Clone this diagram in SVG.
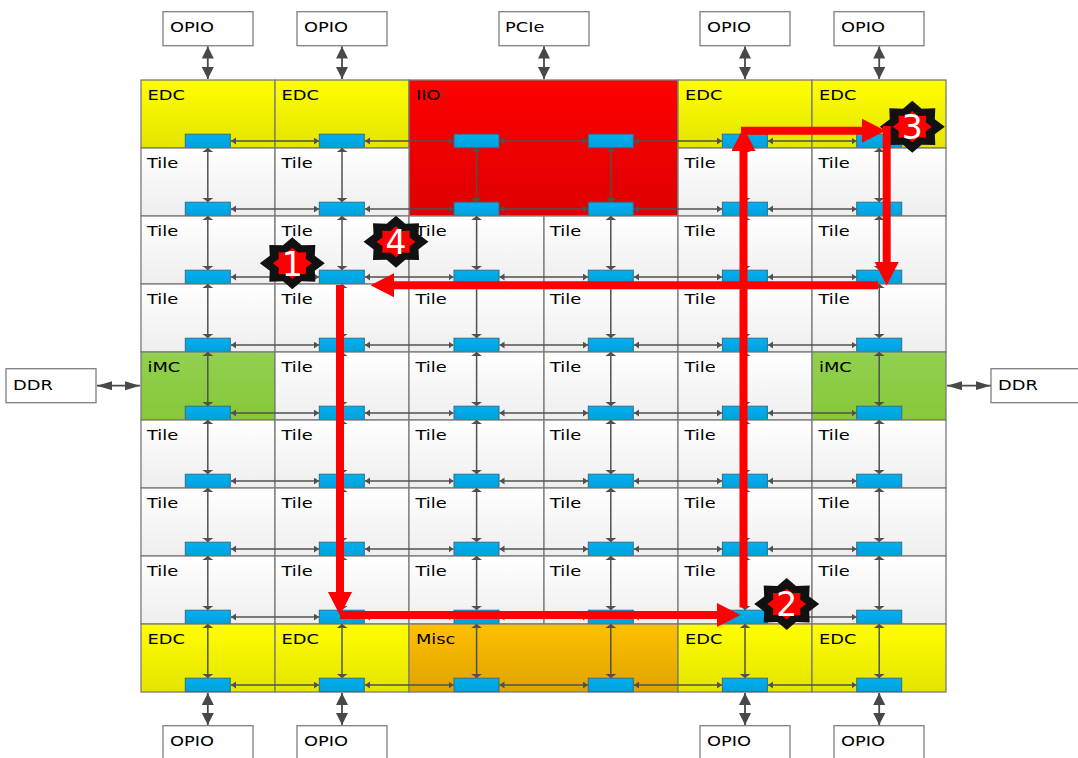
<svg xmlns="http://www.w3.org/2000/svg" width="1078" height="758" viewBox="0 0 1078 758">
<style>
text{font-family:"DejaVu Sans","Liberation Sans",sans-serif;font-size:14.6px;fill:#000}
.n{font-size:33px;fill:#fff;text-anchor:middle}
.c{stroke:#7a7a7a;stroke-width:1.3}
.tile{fill:url(#gt)}.edc{fill:url(#gy)}.iio{fill:url(#gr)}.imc{fill:url(#gg)}.misc{fill:url(#go)}
.ext{fill:#fff;stroke:#7f7f7f;stroke-width:1.3}
.h{fill:none;stroke:#505050;stroke-width:1.5;marker-start:url(#mh);marker-end:url(#mh)}
.v{fill:none;stroke:#505050;stroke-width:1.5;marker-start:url(#mv);marker-end:url(#mv)}
.bv{fill:none;stroke:#484848;stroke-width:1.8;marker-start:url(#mbv);marker-end:url(#mbv)}
.bh{fill:none;stroke:#484848;stroke-width:1.8;marker-start:url(#mbh);marker-end:url(#mbh)}
.r{fill:none;stroke:#f00;stroke-width:8;marker-end:url(#mr)}
.so{fill:#111}.si{fill:#f00}
</style>
<defs>
<linearGradient id="gt" x1="0" y1="0" x2="0" y2="1"><stop offset="0" stop-color="#fff"/><stop offset="1" stop-color="#eee"/></linearGradient>
<linearGradient id="gy" x1="0" y1="0" x2="0" y2="1"><stop offset="0" stop-color="#ff0"/><stop offset="1" stop-color="#e4e400"/></linearGradient>
<linearGradient id="gr" x1="0" y1="0" x2="0" y2="1"><stop offset="0" stop-color="#f00"/><stop offset="1" stop-color="#de0000"/></linearGradient>
<linearGradient id="gg" x1="0" y1="0" x2="0" y2="1"><stop offset="0" stop-color="#92d050"/><stop offset="1" stop-color="#86c838"/></linearGradient>
<linearGradient id="go" x1="0" y1="0" x2="0" y2="1"><stop offset="0" stop-color="#ffc000"/><stop offset="1" stop-color="#dfa300"/></linearGradient>
<linearGradient id="gb" x1="0" y1="0" x2="0" y2="1"><stop offset="0" stop-color="#00b0f0"/><stop offset="1" stop-color="#00a0dc"/></linearGradient>
<rect id="bus" width="45" height="13.5" fill="url(#gb)" stroke="#2f6f8a" stroke-width="1"/>
<polygon id="star" points="0,-26 9.3,-18 23,-18.4 22.5,-7.5 32.5,0 22.5,7.5 23,18.4 9.3,18 0,26 -9.3,18 -23,18.4 -22.5,7.5 -32.5,0 -22.5,-7.5 -23,-18.4 -9.3,-18"/>
<marker id="mh" markerUnits="userSpaceOnUse" markerWidth="6" markerHeight="8" refX="5" refY="3.5" orient="auto-start-reverse"><path d="M0,0L5,3.5L0,7z" fill="#505050"/></marker>
<marker id="mv" markerUnits="userSpaceOnUse" markerWidth="5" markerHeight="11" refX="4" refY="5.5" orient="auto-start-reverse"><path d="M0,0L4,5.5L0,11z" fill="#505050"/></marker>
<marker id="mbv" markerUnits="userSpaceOnUse" markerWidth="13" markerHeight="12" refX="12" refY="6" orient="auto-start-reverse"><path d="M0,0L12,6L0,12z" fill="#484848"/></marker>
<marker id="mbh" markerUnits="userSpaceOnUse" markerWidth="16" markerHeight="10" refX="15" refY="4.5" orient="auto-start-reverse"><path d="M0,0L15,4.5L0,9z" fill="#484848"/></marker>
<marker id="mr" markerUnits="userSpaceOnUse" markerWidth="24" markerHeight="24" refX="0" refY="12" orient="auto"><path d="M0,0L23.5,12L0,24z" fill="#f00"/></marker>
</defs>
<g id="ext">
<g id="opio-t1"><rect class="ext" x="163" y="11.7" width="90" height="34"/><text transform="translate(170 32) scale(1.22 1)">OPIO</text></g>
<g id="opio-t2"><rect class="ext" x="297" y="11.7" width="90" height="34"/><text transform="translate(304 32) scale(1.22 1)">OPIO</text></g>
<g id="pcie"><rect class="ext" x="499" y="11.7" width="90" height="34"/><text transform="translate(505 32) scale(1.22 1)">PCIe</text></g>
<g id="opio-t3"><rect class="ext" x="700" y="11.7" width="90" height="34"/><text transform="translate(707 32) scale(1.22 1)">OPIO</text></g>
<g id="opio-t4"><rect class="ext" x="834" y="11.7" width="90" height="34"/><text transform="translate(841 32) scale(1.22 1)">OPIO</text></g>
<g id="opio-b1"><rect class="ext" x="163" y="725.7" width="90" height="40"/><text transform="translate(170 746) scale(1.22 1)">OPIO</text></g>
<g id="opio-b2"><rect class="ext" x="297" y="725.7" width="90" height="40"/><text transform="translate(304 746) scale(1.22 1)">OPIO</text></g>
<g id="opio-b3"><rect class="ext" x="700" y="725.7" width="90" height="40"/><text transform="translate(707 746) scale(1.22 1)">OPIO</text></g>
<g id="opio-b4"><rect class="ext" x="834" y="725.7" width="90" height="40"/><text transform="translate(841 746) scale(1.22 1)">OPIO</text></g>
<g id="ddr-l"><rect class="ext" x="6" y="368.7" width="90" height="34"/><text transform="translate(13 389.5) scale(1.22 1)">DDR</text></g>
<g id="ddr-r"><rect class="ext" x="991" y="368.7" width="90" height="34"/><text transform="translate(998 389.5) scale(1.22 1)">DDR</text></g>
</g>
<g id="cells">
<g id="r1c1"><rect class="c edc" x="141" y="80" width="134" height="68"/><text transform="translate(147.5 100) scale(1.22 1)">EDC</text><use href="#bus" x="185.3" y="134.2"/></g>
<g id="r1c2"><rect class="c edc" x="275" y="80" width="134" height="68"/><text transform="translate(281.5 100) scale(1.22 1)">EDC</text><use href="#bus" x="319.3" y="134.2"/></g>
<g id="iio"><rect class="c iio" x="409" y="80" width="269" height="136"/><text transform="translate(416 100) scale(1.22 1)">IIO</text><use href="#bus" x="454" y="134.2"/><use href="#bus" x="588.3" y="134.2"/><use href="#bus" x="454" y="202.2"/><use href="#bus" x="588.3" y="202.2"/></g>
<g id="r1c5"><rect class="c edc" x="678" y="80" width="134" height="68"/><text transform="translate(685 100) scale(1.22 1)">EDC</text><use href="#bus" x="722.4" y="134.2"/></g>
<g id="r1c6"><rect class="c edc" x="812" y="80" width="134" height="68"/><text transform="translate(819 100) scale(1.22 1)">EDC</text><use href="#bus" x="856.7" y="134.2"/></g>

<g id="r2c1"><rect class="c tile" x="141" y="148" width="134" height="68"/><text transform="translate(147 168.3) scale(1.22 1)">Tile</text><use href="#bus" x="185.3" y="202.2"/></g>
<g id="r2c2"><rect class="c tile" x="275" y="148" width="134" height="68"/><text transform="translate(281.5 168.3) scale(1.22 1)">Tile</text><use href="#bus" x="319.3" y="202.2"/></g>
<g id="r2c5"><rect class="c tile" x="678" y="148" width="134" height="68"/><text transform="translate(684.5 168.3) scale(1.22 1)">Tile</text><use href="#bus" x="722.4" y="202.2"/></g>
<g id="r2c6"><rect class="c tile" x="812" y="148" width="134" height="68"/><text transform="translate(818.5 168.3) scale(1.22 1)">Tile</text><use href="#bus" x="856.7" y="202.2"/></g>

<g id="r3c1"><rect class="c tile" x="141" y="216" width="134" height="68"/><text transform="translate(147 236.3) scale(1.22 1)">Tile</text><use href="#bus" x="185.3" y="270.2"/></g>
<g id="r3c2"><rect class="c tile" x="275" y="216" width="134" height="68"/><text transform="translate(281.5 236.3) scale(1.22 1)">Tile</text><use href="#bus" x="319.3" y="270.2"/></g>
<g id="r3c3"><rect class="c tile" x="409" y="216" width="135" height="68"/><text transform="translate(415.5 236.3) scale(1.22 1)">Tile</text><use href="#bus" x="454" y="270.2"/></g>
<g id="r3c4"><rect class="c tile" x="544" y="216" width="134" height="68"/><text transform="translate(550 236.3) scale(1.22 1)">Tile</text><use href="#bus" x="588.3" y="270.2"/></g>
<g id="r3c5"><rect class="c tile" x="678" y="216" width="134" height="68"/><text transform="translate(684.5 236.3) scale(1.22 1)">Tile</text><use href="#bus" x="722.4" y="270.2"/></g>
<g id="r3c6"><rect class="c tile" x="812" y="216" width="134" height="68"/><text transform="translate(818.5 236.3) scale(1.22 1)">Tile</text><use href="#bus" x="856.7" y="270.2"/></g>

<g id="r4c1"><rect class="c tile" x="141" y="284" width="134" height="68"/><text transform="translate(147 304.3) scale(1.22 1)">Tile</text><use href="#bus" x="185.3" y="338.2"/></g>
<g id="r4c2"><rect class="c tile" x="275" y="284" width="134" height="68"/><text transform="translate(281.5 304.3) scale(1.22 1)">Tile</text><use href="#bus" x="319.3" y="338.2"/></g>
<g id="r4c3"><rect class="c tile" x="409" y="284" width="135" height="68"/><text transform="translate(415.5 304.3) scale(1.22 1)">Tile</text><use href="#bus" x="454" y="338.2"/></g>
<g id="r4c4"><rect class="c tile" x="544" y="284" width="134" height="68"/><text transform="translate(550 304.3) scale(1.22 1)">Tile</text><use href="#bus" x="588.3" y="338.2"/></g>
<g id="r4c5"><rect class="c tile" x="678" y="284" width="134" height="68"/><text transform="translate(684.5 304.3) scale(1.22 1)">Tile</text><use href="#bus" x="722.4" y="338.2"/></g>
<g id="r4c6"><rect class="c tile" x="812" y="284" width="134" height="68"/><text transform="translate(818.5 304.3) scale(1.22 1)">Tile</text><use href="#bus" x="856.7" y="338.2"/></g>

<g id="r5c1"><rect class="c imc" x="141" y="352" width="134" height="68"/><text transform="translate(147.5 372.3) scale(1.22 1)">iMC</text><use href="#bus" x="185.3" y="406.2"/></g>
<g id="r5c2"><rect class="c tile" x="275" y="352" width="134" height="68"/><text transform="translate(281.5 372.3) scale(1.22 1)">Tile</text><use href="#bus" x="319.3" y="406.2"/></g>
<g id="r5c3"><rect class="c tile" x="409" y="352" width="135" height="68"/><text transform="translate(415.5 372.3) scale(1.22 1)">Tile</text><use href="#bus" x="454" y="406.2"/></g>
<g id="r5c4"><rect class="c tile" x="544" y="352" width="134" height="68"/><text transform="translate(550 372.3) scale(1.22 1)">Tile</text><use href="#bus" x="588.3" y="406.2"/></g>
<g id="r5c5"><rect class="c tile" x="678" y="352" width="134" height="68"/><text transform="translate(684.5 372.3) scale(1.22 1)">Tile</text><use href="#bus" x="722.4" y="406.2"/></g>
<g id="r5c6"><rect class="c imc" x="812" y="352" width="134" height="68"/><text transform="translate(819 372.3) scale(1.22 1)">iMC</text><use href="#bus" x="856.7" y="406.2"/></g>

<g id="r6c1"><rect class="c tile" x="141" y="420" width="134" height="68"/><text transform="translate(147 440.3) scale(1.22 1)">Tile</text><use href="#bus" x="185.3" y="474.2"/></g>
<g id="r6c2"><rect class="c tile" x="275" y="420" width="134" height="68"/><text transform="translate(281.5 440.3) scale(1.22 1)">Tile</text><use href="#bus" x="319.3" y="474.2"/></g>
<g id="r6c3"><rect class="c tile" x="409" y="420" width="135" height="68"/><text transform="translate(415.5 440.3) scale(1.22 1)">Tile</text><use href="#bus" x="454" y="474.2"/></g>
<g id="r6c4"><rect class="c tile" x="544" y="420" width="134" height="68"/><text transform="translate(550 440.3) scale(1.22 1)">Tile</text><use href="#bus" x="588.3" y="474.2"/></g>
<g id="r6c5"><rect class="c tile" x="678" y="420" width="134" height="68"/><text transform="translate(684.5 440.3) scale(1.22 1)">Tile</text><use href="#bus" x="722.4" y="474.2"/></g>
<g id="r6c6"><rect class="c tile" x="812" y="420" width="134" height="68"/><text transform="translate(818.5 440.3) scale(1.22 1)">Tile</text><use href="#bus" x="856.7" y="474.2"/></g>

<g id="r7c1"><rect class="c tile" x="141" y="488" width="134" height="68"/><text transform="translate(147 508.3) scale(1.22 1)">Tile</text><use href="#bus" x="185.3" y="542.2"/></g>
<g id="r7c2"><rect class="c tile" x="275" y="488" width="134" height="68"/><text transform="translate(281.5 508.3) scale(1.22 1)">Tile</text><use href="#bus" x="319.3" y="542.2"/></g>
<g id="r7c3"><rect class="c tile" x="409" y="488" width="135" height="68"/><text transform="translate(415.5 508.3) scale(1.22 1)">Tile</text><use href="#bus" x="454" y="542.2"/></g>
<g id="r7c4"><rect class="c tile" x="544" y="488" width="134" height="68"/><text transform="translate(550 508.3) scale(1.22 1)">Tile</text><use href="#bus" x="588.3" y="542.2"/></g>
<g id="r7c5"><rect class="c tile" x="678" y="488" width="134" height="68"/><text transform="translate(684.5 508.3) scale(1.22 1)">Tile</text><use href="#bus" x="722.4" y="542.2"/></g>
<g id="r7c6"><rect class="c tile" x="812" y="488" width="134" height="68"/><text transform="translate(818.5 508.3) scale(1.22 1)">Tile</text><use href="#bus" x="856.7" y="542.2"/></g>

<g id="r8c1"><rect class="c tile" x="141" y="556" width="134" height="68"/><text transform="translate(147 576.3) scale(1.22 1)">Tile</text><use href="#bus" x="185.3" y="610.2"/></g>
<g id="r8c2"><rect class="c tile" x="275" y="556" width="134" height="68"/><text transform="translate(281.5 576.3) scale(1.22 1)">Tile</text><use href="#bus" x="319.3" y="610.2"/></g>
<g id="r8c3"><rect class="c tile" x="409" y="556" width="135" height="68"/><text transform="translate(415.5 576.3) scale(1.22 1)">Tile</text><use href="#bus" x="454" y="610.2"/></g>
<g id="r8c4"><rect class="c tile" x="544" y="556" width="134" height="68"/><text transform="translate(550 576.3) scale(1.22 1)">Tile</text><use href="#bus" x="588.3" y="610.2"/></g>
<g id="r8c5"><rect class="c tile" x="678" y="556" width="134" height="68"/><text transform="translate(684.5 576.3) scale(1.22 1)">Tile</text><use href="#bus" x="722.4" y="610.2"/></g>
<g id="r8c6"><rect class="c tile" x="812" y="556" width="134" height="68"/><text transform="translate(818.5 576.3) scale(1.22 1)">Tile</text><use href="#bus" x="856.7" y="610.2"/></g>

<g id="r9c1"><rect class="c edc" x="141" y="624" width="134" height="68"/><text transform="translate(147.5 644.3) scale(1.22 1)">EDC</text><use href="#bus" x="185.3" y="678.2"/></g>
<g id="r9c2"><rect class="c edc" x="275" y="624" width="134" height="68"/><text transform="translate(281.5 644.3) scale(1.22 1)">EDC</text><use href="#bus" x="319.3" y="678.2"/></g>
<g id="misc"><rect class="c misc" x="409" y="624" width="269" height="68"/><text transform="translate(416 644.3) scale(1.22 1)">Misc</text><use href="#bus" x="454" y="678.2"/><use href="#bus" x="588.3" y="678.2"/></g>
<g id="r9c5"><rect class="c edc" x="678" y="624" width="134" height="68"/><text transform="translate(685 644.3) scale(1.22 1)">EDC</text><use href="#bus" x="722.4" y="678.2"/></g>
<g id="r9c6"><rect class="c edc" x="812" y="624" width="134" height="68"/><text transform="translate(819 644.3) scale(1.22 1)">EDC</text><use href="#bus" x="856.7" y="678.2"/></g>
</g>
<g id="connectors">
<path class="bv" d="M207.8 46.5V79"/><path class="bv" d="M342 46.5V79"/><path class="bv" d="M544 46.5V79"/><path class="bv" d="M745 46.5V79"/><path class="bv" d="M879.2 46.5V79"/>
<path class="bv" d="M207.8 693V725"/><path class="bv" d="M342 693V725"/><path class="bv" d="M745 693V725"/><path class="bv" d="M879.2 693V725"/>
<path class="bh" d="M97 385.7H140"/><path class="bh" d="M947 385.7H990.5"/>

<path class="v" d="M207.8 148V202"/><path class="v" d="M342 148V202"/><path class="v" d="M476.6 148V202"/><path class="v" d="M610.8 148V202"/><path class="v" d="M745 148V202"/><path class="v" d="M879.2 148V202"/>
<path class="v" d="M207.8 216V270"/><path class="v" d="M342 216V270"/><path class="v" d="M476.6 216V270"/><path class="v" d="M610.8 216V270"/><path class="v" d="M745 216V270"/><path class="v" d="M879.2 216V270"/>
<path class="v" d="M207.8 284V338"/><path class="v" d="M342 284V338"/><path class="v" d="M476.6 284V338"/><path class="v" d="M610.8 284V338"/><path class="v" d="M745 284V338"/><path class="v" d="M879.2 284V338"/>
<path class="v" d="M207.8 352V406"/><path class="v" d="M342 352V406"/><path class="v" d="M476.6 352V406"/><path class="v" d="M610.8 352V406"/><path class="v" d="M745 352V406"/><path class="v" d="M879.2 352V406"/>
<path class="v" d="M207.8 420V474"/><path class="v" d="M342 420V474"/><path class="v" d="M476.6 420V474"/><path class="v" d="M610.8 420V474"/><path class="v" d="M745 420V474"/><path class="v" d="M879.2 420V474"/>
<path class="v" d="M207.8 488V542"/><path class="v" d="M342 488V542"/><path class="v" d="M476.6 488V542"/><path class="v" d="M610.8 488V542"/><path class="v" d="M745 488V542"/><path class="v" d="M879.2 488V542"/>
<path class="v" d="M207.8 556V610"/><path class="v" d="M342 556V610"/><path class="v" d="M476.6 556V610"/><path class="v" d="M610.8 556V610"/><path class="v" d="M745 556V610"/><path class="v" d="M879.2 556V610"/>
<path class="v" d="M207.8 624V678"/><path class="v" d="M342 624V678"/><path class="v" d="M476.6 624V678"/><path class="v" d="M610.8 624V678"/><path class="v" d="M745 624V678"/><path class="v" d="M879.2 624V678"/>

<path class="h" d="M231 141H319"/><path class="h" d="M365 141H453.5"/><path class="h" d="M499.5 141H588"/><path class="h" d="M634 141H722"/><path class="h" d="M768 141H856.5"/>
<path class="h" d="M231 209H319"/><path class="h" d="M365 209H453.5"/><path class="h" d="M499.5 209H588"/><path class="h" d="M634 209H722"/><path class="h" d="M768 209H856.5"/>
<path class="h" d="M231 277H319"/><path class="h" d="M365 277H453.5"/><path class="h" d="M499.5 277H588"/><path class="h" d="M634 277H722"/><path class="h" d="M768 277H856.5"/>
<path class="h" d="M231 345H319"/><path class="h" d="M365 345H453.5"/><path class="h" d="M499.5 345H588"/><path class="h" d="M634 345H722"/><path class="h" d="M768 345H856.5"/>
<path class="h" d="M231 413H319"/><path class="h" d="M365 413H453.5"/><path class="h" d="M499.5 413H588"/><path class="h" d="M634 413H722"/><path class="h" d="M768 413H856.5"/>
<path class="h" d="M231 481H319"/><path class="h" d="M365 481H453.5"/><path class="h" d="M499.5 481H588"/><path class="h" d="M634 481H722"/><path class="h" d="M768 481H856.5"/>
<path class="h" d="M231 549H319"/><path class="h" d="M365 549H453.5"/><path class="h" d="M499.5 549H588"/><path class="h" d="M634 549H722"/><path class="h" d="M768 549H856.5"/>
<path class="h" d="M231 617H319"/><path class="h" d="M365 617H453.5"/><path class="h" d="M499.5 617H588"/><path class="h" d="M634 617H722"/><path class="h" d="M768 617H856.5"/>
<path class="h" d="M231 685H319"/><path class="h" d="M365 685H453.5"/><path class="h" d="M499.5 685H588"/><path class="h" d="M634 685H722"/><path class="h" d="M768 685H856.5"/>
</g>
<g id="badge-1"><use class="so" href="#star" x="292.3" y="263.3"/><use class="si" href="#star" transform="translate(292.3 263.3) scale(.6)"/><text class="n" x="292.3" y="275.5">1</text></g>
<g id="badge-4"><use class="so" href="#star" x="396" y="241.7"/><use class="si" href="#star" transform="translate(396 241.7) scale(.6)"/><text class="n" x="396" y="254">4</text></g>
<g id="badge-2"><use class="so" href="#star" x="786.7" y="604"/><use class="si" href="#star" transform="translate(786.7 604) scale(.6)"/><text class="n" x="786.7" y="616">2</text></g>
<g id="badge-3"><use class="so" href="#star" x="912.3" y="126.7"/><use class="si" href="#star" transform="translate(912.3 126.7) scale(.6)"/><text class="n" x="912.3" y="139">3</text></g>
<g id="route">
<path class="r" d="M340 285V592"/>
<path class="r" d="M340 615H717"/>
<path class="r" d="M743.5 607.5V151"/>
<path class="r" d="M741 130.7H862"/>
<path class="r" d="M886.7 126V262"/>
<path class="r" d="M878 285.3H394"/>
</g>
</svg>
